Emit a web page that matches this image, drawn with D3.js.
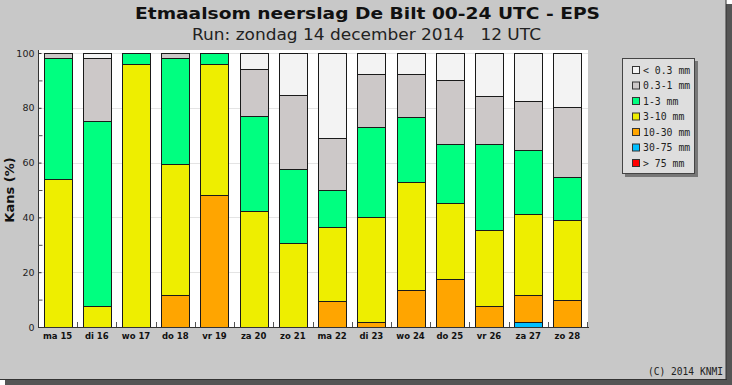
<!DOCTYPE html>
<html><head><meta charset="utf-8">
<script src="https://cdn.jsdelivr.net/npm/d3@7"></script>
<style>
html,body{margin:0;padding:0;background:#ffffff;}
svg{display:block;}
text{white-space:pre;}
</style></head>
<body>
<script>
// ---- data ----
const days = ["ma 15","di 16","wo 17","do 18","vr 19","za 20","zo 21","ma 22","di 23","wo 24","do 25","vr 26","za 27","zo 28"];
const gt75   = [0,0,0,0,0,0,0,0,0,0,0,0,0,0];
const p30_75 = [0,0,0,0,0,0,0,0,0,0,0,0,2,0];
const p10_30 = [0,0,0,11.6,48,0,0,9.4,1.8,13.6,17.6,7.8,9.8,9.8];
const p3_10  = [54,7.8,96,48,48,42.3,30.8,27,38.5,39.3,27.6,27.5,29.4,29.4];
const p1_3   = [44,67.4,4,38.4,4,34.6,27,13.7,32.7,23.6,21.5,31.4,23.5,15.7];
const p03_1  = [2,22.8,0,2,0,17.3,26.7,19,19.2,15.7,23.5,17.6,17.7,25.5];
const lt03   = [0,2,0,0,0,5.8,15.5,30.9,7.8,7.8,9.8,15.7,17.6,19.6];
const yTicks = [0,20,40,60,80,100];
const classKeys  = ["> 75 mm","30-75 mm","10-30 mm","3-10 mm","1-3 mm","0.3-1 mm","< 0.3 mm"];
const classCols  = ["#ff0000","#00bfff","#ffa500","#eeee00","#00ff80","#ccc8c8","#f3f3f3"];
const legendKeys = ["< 0.3 mm","0.3-1 mm","1-3 mm","3-10 mm","10-30 mm","30-75 mm","> 75 mm"];
const titleText = "Etmaalsom neerslag De Bilt 00-24 UTC - EPS";
const subText = "Run: zondag 14 december 2014   12 UTC";
const copyText = "(C) 2014 KNMI";

const seriesArrays = [gt75,p30_75,p10_30,p3_10,p1_3,p03_1,lt03];
const table = days.map((d,i)=>{
  const row={day:d};
  classKeys.forEach((k,j)=>row[k]=seriesArrays[j][i]);
  return row;
});
const colorOf = d3.scaleOrdinal().domain(classKeys).range(classCols);

const W=732,H=385;
const svg=d3.select("body").append("svg").attr("width",W).attr("height",H);

// frame + shadow
svg.append("rect").attr("x",0).attr("y",0).attr("width",W).attr("height",H).attr("fill","#ffffff");
svg.append("rect").attr("x",5).attr("y",4).attr("width",W-5).attr("height",H-4).attr("fill","#555555");
svg.append("rect").attr("x",0).attr("y",0).attr("width",726).attr("height",379).attr("fill","#c8c8c8");
svg.append("rect").attr("x",725.5).attr("y",0).attr("width",1).attr("height",380).attr("fill","#333");
svg.append("rect").attr("x",0).attr("y",379).attr("width",727).attr("height",1).attr("fill","#333");

// titles
svg.append("text").attr("x",367.5).attr("y",19).attr("text-anchor","middle")
  .attr("font-family","DejaVu Sans").attr("font-weight","bold").attr("font-size",16.5)
  .attr("textLength",465).attr("lengthAdjust","spacingAndGlyphs").attr("fill","#111").text(titleText);
svg.append("text").attr("x",366.5).attr("y",40).attr("text-anchor","middle")
  .attr("font-family","DejaVu Sans").attr("font-size",15)
  .attr("textLength",349).attr("lengthAdjust","spacingAndGlyphs").attr("fill","#222").text(subText);

// scales
const x=d3.scaleBand().domain(days).range([38,587]).paddingInner(0.2857).paddingOuter(0.1428);
const y=d3.scaleLinear().domain([0,100]).range([327,53]);

// plot area
svg.append("rect").attr("x",38).attr("y",50).attr("width",550).attr("height",277).attr("fill","#ffffff");
// grid
svg.append("g").selectAll("line").data(yTicks.filter(v=>v>0)).join("line")
  .attr("x1",39).attr("x2",588).attr("y1",d=>Math.round(y(d))+0.5).attr("y2",d=>Math.round(y(d))+0.5)
  .attr("stroke","#e4e4e4").attr("stroke-width",1);

// bars
const stack=d3.stack().keys(classKeys)(table);
svg.append("g").attr("shape-rendering","crispEdges").selectAll("g").data(stack).join("g")
  .attr("fill",s=>colorOf(s.key))
  .selectAll("rect").data(s=>s.filter(d=>d[1]-d[0]>0.01)).join("rect")
  .attr("x",d=>Math.round(x(d.data.day))+0.5)
  .attr("y",d=>Math.round(y(d[1]))+0.5)
  .attr("width",Math.round(x.bandwidth()))
  .attr("height",d=>Math.round(y(d[0]))-Math.round(y(d[1])))
  .attr("stroke","#1a1a1a").attr("stroke-width",1);

// y axis
const yAxis=d3.axisLeft(y).tickValues(yTicks).tickSize(-3).tickPadding(6).tickFormat(d3.format("d"));
const ga=svg.append("g").attr("transform","translate(38.5,0)").call(yAxis);
ga.select(".domain").attr("stroke","#333").attr("d","M0,50V327");
ga.selectAll(".tick line").attr("stroke","#333");
ga.selectAll(".tick text").attr("font-family","DejaVu Sans").attr("font-size",9.5).attr("fill","#222").attr("dx","2");
const yMinor=d3.axisLeft(y).tickValues([10,30,50,70,90]).tickSize(-4).tickFormat("");
const gm=svg.append("g").attr("transform","translate(38.5,0)").call(yMinor);
gm.select(".domain").remove();
gm.selectAll(".tick line").attr("stroke","#555");

// x axis
svg.append("line").attr("x1",38).attr("x2",589).attr("y1",327.5).attr("y2",327.5).attr("stroke","#333");
const bounds=days.slice(1).map(d=>x(d)-x.step()*x.paddingInner()/2);
bounds.push(x(days[days.length-1])+x.bandwidth()+x.step()*x.paddingInner()/2);
svg.append("g").selectAll("line").data(bounds).join("line")
  .attr("x1",d=>Math.round(d)+0.5).attr("x2",d=>Math.round(d)+0.5).attr("y1",322).attr("y2",327)
  .attr("stroke","#555");
svg.append("g").selectAll("text").data(days).join("text")
  .attr("x",d=>x(d)+x.bandwidth()/2).attr("y",339).attr("text-anchor","middle")
  .attr("font-family","DejaVu Sans").attr("font-weight","bold").attr("font-size",8.5).attr("fill","#111")
  .text(d=>d);

// y label
svg.append("text").attr("transform","translate(14,190) rotate(-90)").attr("text-anchor","middle")
  .attr("font-family","DejaVu Sans").attr("font-weight","bold").attr("font-size",13).attr("fill","#111")
  .text("Kans (%)");

// legend
svg.append("rect").attr("x",625).attr("y",61).attr("width",73).attr("height",116).attr("fill","#777");
svg.append("rect").attr("x",622.5).attr("y",58.5).attr("width",72).attr("height",115).attr("fill","#dedede").attr("stroke","#444");
const lg=svg.append("g").selectAll("g").data(legendKeys).join("g")
  .attr("transform",(d,i)=>`translate(0,${70+i*15.5})`);
lg.append("rect").attr("x",632.5).attr("y",-3.5).attr("width",7).attr("height",7)
  .attr("fill",d=>colorOf(d)).attr("stroke","#333");
lg.append("text").attr("x",643).attr("y",3.5).attr("font-family","DejaVu Sans Mono").attr("font-size",9.8)
  .attr("fill","#222").text(d=>d);

// copyright
svg.append("text").attr("x",723).attr("y",375).attr("text-anchor","end")
  .attr("font-family","DejaVu Sans Mono").attr("font-size",9.6).attr("fill","#222").text(copyText);
</script>
</body></html>
